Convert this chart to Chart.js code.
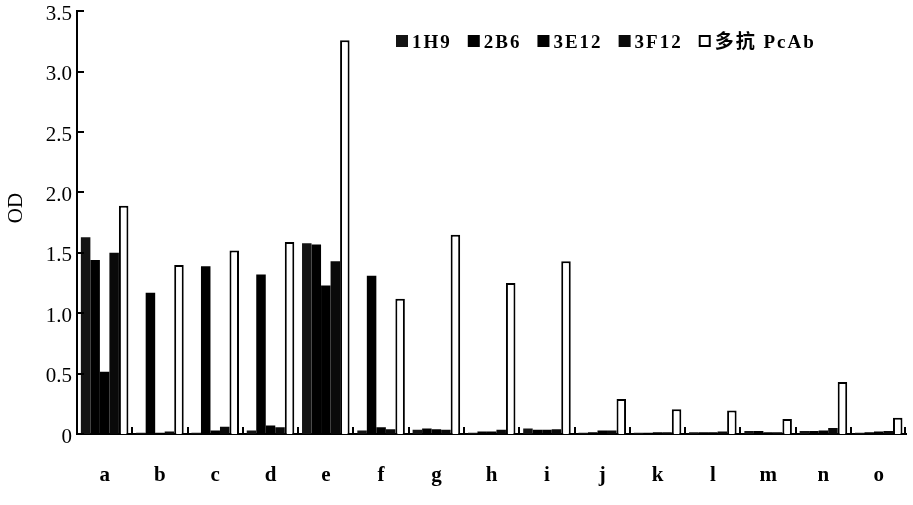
<!DOCTYPE html>
<html>
<head>
<meta charset="utf-8">
<script src="https://cdn.jsdelivr.net/npm/chart.js@4.4.0/dist/chart.umd.min.js"></script>
<style>
  html, body { margin: 0; padding: 0; background: #fff; }
  #wrap { width: 913px; height: 505px; }
</style>
</head>
<body>
<div id="wrap"><canvas id="odChart" width="913" height="505"></canvas></div>
<script>
// data
const categories = ['a', 'b', 'c', 'd', 'e', 'f', 'g', 'h', 'i', 'j', 'k', 'l', 'm', 'n', 'o'];
const seriesNames = ['1H9', '2B6', '3E12', '3F12', '多抗 PcAb'];
const od1H9  = [1.63, 0.01, 0.01, 0.03, 1.58, 0.03, 0.035, 0.01, 0.045, 0.01, 0.01, 0.015, 0.025, 0.025, 0.01];
const od2B6  = [1.44, 1.17, 1.39, 1.32, 1.57, 1.31, 0.045, 0.02, 0.035, 0.015, 0.01, 0.015, 0.025, 0.025, 0.015];
const od3E12 = [0.515, 0.01, 0.03, 0.07, 1.23, 0.055, 0.04, 0.02, 0.035, 0.03, 0.015, 0.015, 0.015, 0.03, 0.02];
const od3F12 = [1.50, 0.02, 0.06, 0.055, 1.43, 0.04, 0.035, 0.035, 0.04, 0.03, 0.015, 0.02, 0.015, 0.05, 0.025];
const odPcAb = [1.89, 1.40, 1.52, 1.59, 3.26, 1.12, 1.65, 1.25, 1.43, 0.29, 0.205, 0.195, 0.125, 0.43, 0.135];
const yTicks = [0, 0.5, 1.0, 1.5, 2.0, 2.5, 3.0, 3.5];

const serif = '"Liberation Serif", "Times New Roman", "Noto Sans CJK SC", serif';

// inward tick marks, axis title and the legend row
const decorations = {
  id: 'decorations',
  afterDraw(chart) {
    const ctx = chart.ctx;
    const xs = chart.scales.x, ys = chart.scales.y;
    const area = chart.chartArea;
    ctx.save();
    ctx.strokeStyle = '#000';
    ctx.lineWidth = 2;
    ctx.beginPath();
    ys.ticks.forEach(t => {
      const py = Math.round(ys.getPixelForValue(t.value));
      ctx.moveTo(area.left, py);
      ctx.lineTo(area.left + 7, py);
    });
    for (let i = 1; i <= categories.length; i++) {
      const px = i < categories.length
        ? (xs.getPixelForValue(i - 1) + xs.getPixelForValue(i)) / 2
        : area.right - 1;
      ctx.moveTo(Math.round(px), area.bottom);
      ctx.lineTo(Math.round(px), area.bottom - 7);
    }
    ctx.stroke();

    // y title
    ctx.fillStyle = '#000';
    ctx.font = '21px ' + serif;
    ctx.textAlign = 'center';
    ctx.textBaseline = 'middle';
    ctx.translate(16, 208);
    ctx.rotate(-Math.PI / 2);
    ctx.fillText('OD', 0, 0);
    ctx.restore();

    // legend
    ctx.save();
    ctx.font = 'bold 19px ' + serif;
    ctx.letterSpacing = '2px';
    ctx.textBaseline = 'alphabetic';
    ctx.textAlign = 'left';
    let x = 396;
    chart.data.datasets.forEach(ds => {
      if (ds.label === seriesNames[4]) {
        ctx.fillStyle = '#fff';
        ctx.fillRect(x, 35, 12, 12);
        ctx.strokeStyle = '#000';
        ctx.lineWidth = 2;
        ctx.strokeRect(x + 1, 36, 10, 10);
      } else {
        ctx.fillStyle = ds.backgroundColor;
        ctx.fillRect(x, 35, 12, 12);
      }
      ctx.fillStyle = '#000';
      ctx.fillText(ds.label, x + 16, 48);
      x += 16 + ctx.measureText(ds.label).width + 16;
    });
    ctx.restore();
  }
};

new Chart(document.getElementById('odChart'), {
  type: 'bar',
  data: {
    labels: categories,
    datasets: [
      { label: seriesNames[0], data: od1H9,  backgroundColor: '#141414', borderWidth: 0 },
      { label: seriesNames[1], data: od2B6,  backgroundColor: '#000', borderWidth: 0 },
      { label: seriesNames[2], data: od3E12, backgroundColor: '#000', borderWidth: 0 },
      { label: seriesNames[3], data: od3F12, backgroundColor: '#0a0a0a', borderWidth: 0 },
      { label: seriesNames[4], data: odPcAb, backgroundColor: '#fff', borderColor: '#000', borderWidth: 2 }
    ]
  },
  options: {
    responsive: false,
    animation: false,
    layout: { padding: { top: 10, right: 1, left: 0, bottom: 0 } },
    datasets: { bar: { categoryPercentage: 0.86, barPercentage: 1.0 } },
    plugins: {
      legend: { display: false },
      tooltip: { enabled: false }
    },
    scales: {
      x: {
        offset: true,
        grid: { display: false, drawTicks: false },
        border: { display: true, color: '#000', width: 2 },
        ticks: {
          color: '#000',
          padding: 29,
          font: { family: serif, size: 21, weight: 'bold' }
        },
        afterFit(scale) { scale.height = 71; }
      },
      y: {
        min: 0,
        max: 3.5,
        grid: { display: false, drawTicks: false },
        border: { display: true, color: '#000', width: 2 },
        afterBuildTicks(scale) { scale.ticks = yTicks.map(v => ({ value: v })); },
        ticks: {
          color: '#000',
          padding: 5,
          labelOffset: 3,
          font: { family: serif, size: 21, lineHeight: 0.6 },
          callback: v => (v === 0 ? '0' : v.toFixed(1))
        },
        afterFit(scale) { scale.width = 77; }
      }
    }
  },
  plugins: [decorations]
});
</script>
</body>
</html>
